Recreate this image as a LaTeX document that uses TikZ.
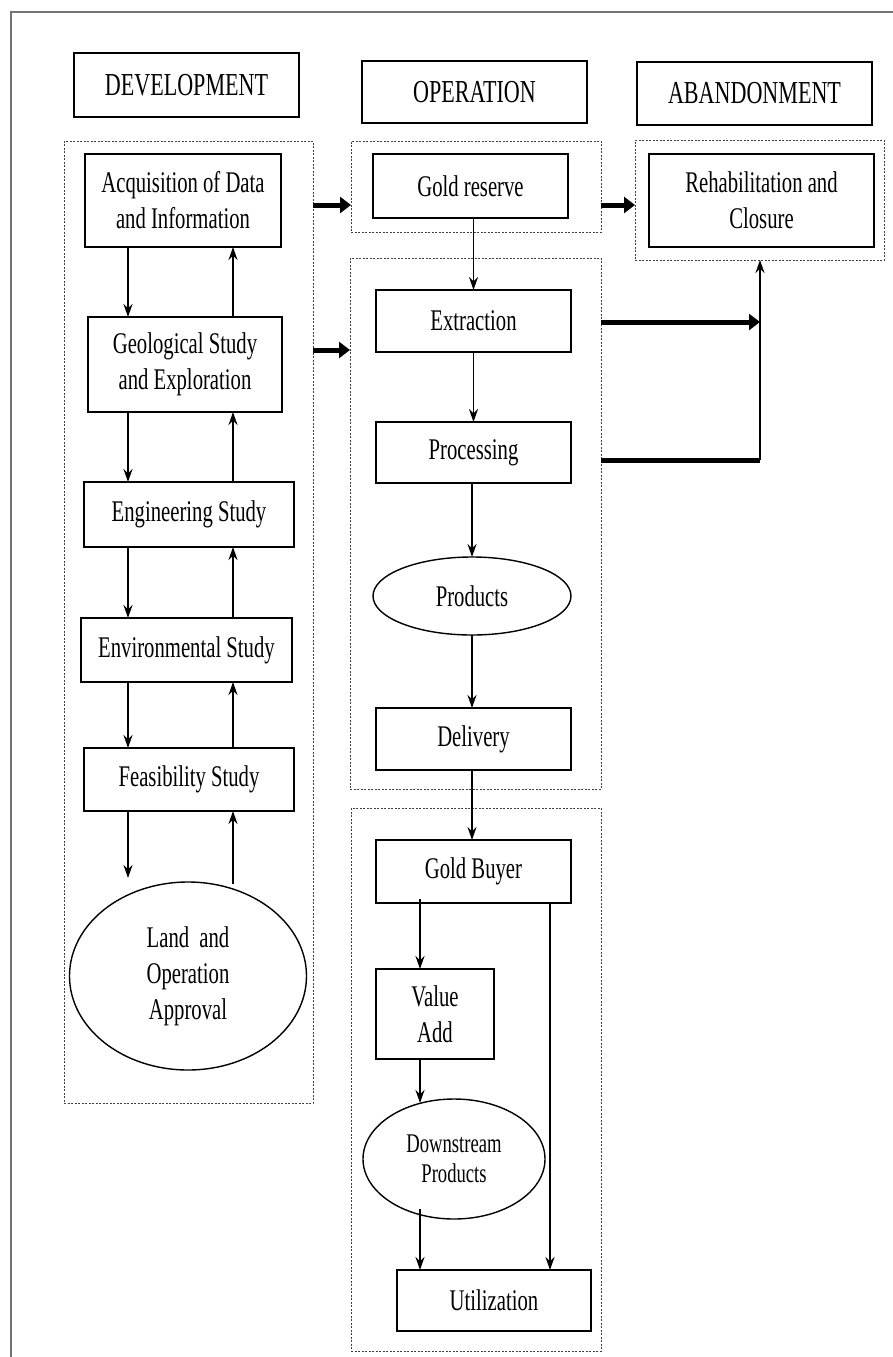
\documentclass[tikz,border=0pt]{standalone}
\usepackage{fontspec}
\setmainfont{Liberation Serif}[FakeStretch=0.69]
\usetikzlibrary{arrows.meta,shapes.geometric}
\begin{document}
\begin{tikzpicture}[x=1pt,y=-1pt,
  every node/.style={inner sep=0pt,outer sep=0pt,align=center},
  txt/.style={font=\fontsize{30}{36}\selectfont},
  hdr/.style={draw,line width=1.6pt,font=\fontsize{32}{38}\selectfont},
  box/.style={draw,line width=1.4pt,txt},
  oval/.style={draw,line width=1.4pt,ellipse,txt},
  cont/.style={draw=black!75,line width=1pt,dash pattern=on 2pt off 1.5pt},
  arr/.style={line width=1.8pt,-{Stealth[length=13pt,width=9pt]}},
  fat/.style={line width=5pt,-{Triangle[length=11pt,width=16pt]}},
  fatln/.style={line width=5pt},
  thinln/.style={line width=1.8pt}]
\useasboundingbox (0,0) rectangle (893,1357);
% outer frame
\draw[black!55,line width=1.5pt] (11,1357) -- (11,12) -- (893,12);
% headers
\node[hdr,minimum width=225pt,minimum height=64pt] (hdev) at (186.5,85) {DEVELOPMENT};
\node[hdr,minimum width=225pt,minimum height=62pt] (hop) at (474.5,92) {OPERATION};
\node[hdr,minimum width=235pt,minimum height=63pt] (hab) at (754.5,93.5) {ABANDONMENT};
% containers
\node[cont,minimum width=249pt,minimum height=962pt] (devC) at (188.5,622) {};
\node[cont,minimum width=250pt,minimum height=91pt] (opTop) at (476,186.5) {};
\node[cont,minimum width=249pt,minimum height=120pt] (abC) at (759.5,200) {};
\node[cont,minimum width=251pt,minimum height=531pt] (opMain) at (475.5,523.5) {};
\node[cont,minimum width=250pt,minimum height=543pt] (opBot) at (476,1079.5) {};
% development column
\node[box,minimum width=196pt,minimum height=93pt] (acq) at (183,200.5) {Acquisition of Data\\and Information};
\node[box,minimum width=194pt,minimum height=95pt] (geo) at (185,364.5) {Geological Study\\and Exploration};
\node[box,minimum width=210pt,minimum height=65pt] (eng) at (189,514.5) {Engineering Study};
\node[box,minimum width=211pt,minimum height=64pt] (env) at (186.5,650) {Environmental Study};
\node[box,minimum width=210pt,minimum height=63pt] (feas) at (189,779.5) {Feasibility Study};
\node[oval,minimum width=237pt,minimum height=188pt] (land) at (188,976) {Land\hspace{5pt} and\\Operation\\Approval};
% operation column
\node[box,minimum width=195pt,minimum height=64pt] (gold) at (470.5,186) {Gold reserve};
\node[box,minimum width=195pt,minimum height=62pt] (extr) at (473.5,321) {Extraction};
\node[box,minimum width=195pt,minimum height=61pt] (proc) at (473.5,452.5) {Processing};
\node[oval,minimum width=198pt,minimum height=78pt] (prod) at (472,596) {Products};
\node[box,minimum width=195pt,minimum height=62pt] (deliv) at (473.5,739) {Delivery};
\node[box,minimum width=195pt,minimum height=63pt] (buyer) at (473.5,871.5) {Gold Buyer};
\node[box,minimum width=118pt,minimum height=90pt] (value) at (435,1014) {Value\\Add};
\node[oval,minimum width=182pt,minimum height=120pt,font=\fontsize{27}{30}\selectfont] (down) at (454,1159) {Downstream\\Products};
\node[box,minimum width=194pt,minimum height=61pt] (util) at (494,1300.5) {Utilization};
% abandonment
\node[box,minimum width=225pt,minimum height=93pt] (rehab) at (761.5,200.5) {Rehabilitation and\\Closure};
% helper coordinates
\coordinate (dnx) at (128,0);
\coordinate (upx) at (233,0);
\coordinate (r1) at (0,205);
\coordinate (r2) at (0,350);
\coordinate (j1) at (760,322);
\coordinate (j2) at (760,460);
\coordinate (bx1) at (420,0);
\coordinate (bx2) at (550,0);
% development arrows
\draw[arr] (acq.south -| dnx) -- (geo.north -| dnx);
\draw[arr] (geo.north -| upx) -- (acq.south -| upx);
\draw[arr] (geo.south -| dnx) -- (eng.north -| dnx);
\draw[arr] (eng.north -| upx) -- (geo.south -| upx);
\draw[arr] (eng.south -| dnx) -- (env.north -| dnx);
\draw[arr] (env.north -| upx) -- (eng.south -| upx);
\draw[arr] (env.south -| dnx) -- (feas.north -| dnx);
\draw[arr] (feas.north -| upx) -- (env.south -| upx);
\draw[arr] (feas.south -| dnx) -- ([yshift=4pt]land.north -| dnx);
\draw[arr] ([yshift=-2pt]land.north -| upx) -- (feas.south -| upx);
% thick arrows between phases
\draw[fat] (devC.east |- r1) -- (opTop.west |- r1);
\draw[fat] (opTop.east |- r1) -- (abC.west |- r1);
\draw[fat] (devC.east |- r2) -- (opMain.west |- r2);
\draw[fat] (opMain.east |- j1) -- (j1);
\draw[fatln] (opMain.east |- j2) -- (j2);
\draw[thinln] (j1) -- (j2);
\draw[arr] (j2) -- (abC.south -| j2);
% operation arrows
\draw[arr] (gold.south -| extr.north) -- (extr.north);
\draw[arr] (extr.south) -- (proc.north);
\draw[arr] (proc.south -| prod.north) -- (prod.north);
\draw[arr] (prod.south) -- (deliv.north -| prod.south);
\draw[arr] (deliv.south -| prod.south) -- (buyer.north -| prod.south);
\draw[arr] ([yshift=4pt]buyer.south -| bx1) -- (value.north -| bx1);
\draw[arr] (value.south -| bx1) -- ([yshift=-4pt]down.north -| bx1);
\draw[arr] ([yshift=10pt]down.south -| bx1) -- (util.north -| bx1);
\draw[arr] (buyer.south -| bx2) -- (util.north -| bx2);
\end{tikzpicture}
\end{document}
